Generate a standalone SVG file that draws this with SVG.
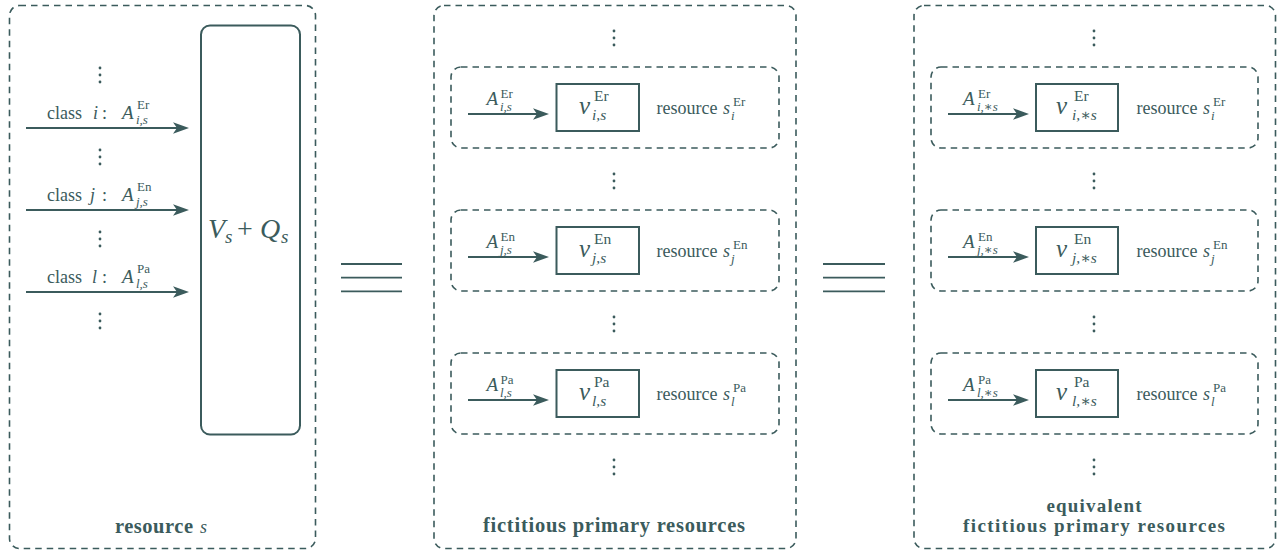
<svg xmlns="http://www.w3.org/2000/svg" xmlns:xlink="http://www.w3.org/1999/xlink" width="1283" height="552" viewBox="0 0 1283 552" font-family="'Liberation Serif', 'DejaVu Serif', serif">
<defs>
<style>
.dash{fill:none;stroke:#3b5b5c;stroke-width:1.6;stroke-dasharray:6.5 5}
.solid{fill:none;stroke:#3b5b5c;stroke-width:2}
.bar{stroke:#3b5b5c;stroke-width:1.8}
.arr{stroke:#3b5b5c;stroke-width:2;fill:none;marker-end:url(#ah)}
text{font-family:"Liberation Serif","DejaVu Serif",serif;fill:#3b5b5c}
.it{font-style:italic}
.b{font-weight:bold}
.n{font-size:18px}
.tt{font-size:20.5px;font-weight:bold}
.t2{font-size:19px;font-weight:bold}
.A{font-size:19px;font-style:italic}
.sc{font-size:13px}
.sci{font-size:13px;font-style:italic}
.v{font-size:25px;font-style:italic}
.vs{font-size:15.5px}
.vsi{font-size:15.5px;font-style:italic}
</style>
<marker id="ah" markerUnits="userSpaceOnUse" markerWidth="18" markerHeight="14" viewBox="0 0 18 14" refX="10" refY="7" orient="auto">
<path d="M0,1.3 L16,7 L0,12.7 L4,7 Z" fill="#3b5b5c"/>
</marker>
<g id="vdots" fill="#3b5b5c">
<circle cx="0" cy="-7" r="1.4"/><circle cx="0" cy="0" r="1.4"/><circle cx="0" cy="7" r="1.4"/>
</g>
</defs>

<!-- LEFT: resource s -->
<g id="resource-s">
<rect class="dash" x="9.5" y="5.5" width="306" height="543" rx="10"/>
<text x="115" y="533" class="tt" textLength="78" lengthAdjust="spacing">resource</text>
<text x="200" y="533" class="it n">s</text>
</g>
<g id="server-Vs-Qs">
<rect class="solid" x="201" y="25.5" width="99" height="409" rx="9"/>
<text x="208" y="238" class="it" font-size="28">V</text>
<text x="225" y="243" class="it" font-size="19">s</text>
<text x="237" y="238" font-size="28">+</text>
<text x="260" y="238" class="it" font-size="28">Q</text>
<text x="281" y="243" class="it" font-size="19">s</text>
</g>
<g id="left-dots">
<use xlink:href="#vdots" x="100" y="75"/>
<use xlink:href="#vdots" x="100" y="157"/>
<use xlink:href="#vdots" x="100" y="239"/>
<use xlink:href="#vdots" x="100" y="321"/>
</g>
<g id="left-labels">
<text x="47" y="119" class="n">class</text><text x="93" y="119" class="n it">i</text><text x="102" y="119" class="n">:</text>
<text x="122" y="119" class="A">A</text><text x="137" y="108.5" class="sc">Er</text><text x="136" y="124" class="sci">i,s</text>

<text x="47" y="201" class="n">class</text><text x="90" y="201" class="n it">j</text><text x="102" y="201" class="n">:</text>
<text x="122" y="201" class="A">A</text><text x="137" y="190.5" class="sc">En</text><text x="136" y="206" class="sci">j,s</text>

<text x="47" y="283" class="n">class</text><text x="92" y="283" class="n it">l</text><text x="102" y="283" class="n">:</text>
<text x="122" y="283" class="A">A</text><text x="137" y="272.5" class="sc">Pa</text><text x="136" y="288" class="sci">l,s</text>
</g>

<!-- equivalence signs -->
<g id="equiv-1">
<line class="bar" x1="341" y1="264" x2="402" y2="264"/>
<line class="bar" x1="341" y1="277.7" x2="402" y2="277.7"/>
<line class="bar" x1="341" y1="291.3" x2="402" y2="291.3"/>
</g>
<g id="equiv-2">
<line class="bar" x1="823" y1="264" x2="885" y2="264"/>
<line class="bar" x1="823" y1="277.7" x2="885" y2="277.7"/>
<line class="bar" x1="823" y1="291.3" x2="885" y2="291.3"/>
</g>

<!-- MIDDLE: fictitious primary resources -->
<g id="fictitious">
<rect class="dash" x="434" y="5.5" width="362" height="543" rx="10"/>
<text x="614" y="532" class="tt" text-anchor="middle" textLength="262" lengthAdjust="spacing">fictitious primary resources</text>
<use xlink:href="#vdots" x="614" y="38"/>
<use xlink:href="#vdots" x="614" y="181"/>
<use xlink:href="#vdots" x="614" y="324"/>
<use xlink:href="#vdots" x="614" y="467"/>
</g>
<g id="fict-Er">
<rect class="dash" x="451" y="67" width="328" height="81" rx="10"/>
<rect class="solid" x="556.5" y="84" width="82.5" height="47"/>
<text x="486.5" y="105" class="A">A</text><text x="500.5" y="98" class="sc">Er</text><text x="500" y="110.5" class="sci">i,s</text>
<text x="579" y="114" class="v">v</text><text x="594" y="101" class="vs">Er</text><text x="592" y="120" class="vsi">i,s</text>
<text x="656.5" y="114" class="n">resource</text><text x="723" y="114" class="n it">s</text><text x="733" y="106" class="sc">Er</text><text x="731" y="119.5" class="sci">i</text>
</g>
<g id="fict-En">
<rect class="dash" x="451" y="210" width="328" height="81" rx="10"/>
<rect class="solid" x="556.5" y="227" width="82.5" height="47"/>
<text x="486.5" y="248" class="A">A</text><text x="500.5" y="241" class="sc">En</text><text x="500" y="253.5" class="sci">j,s</text>
<text x="579" y="257" class="v">v</text><text x="594" y="244" class="vs">En</text><text x="592" y="263" class="vsi">j,s</text>
<text x="656.5" y="257" class="n">resource</text><text x="723" y="257" class="n it">s</text><text x="733" y="249" class="sc">En</text><text x="731" y="262.5" class="sci">j</text>
</g>
<g id="fict-Pa">
<rect class="dash" x="451" y="353" width="328" height="81" rx="10"/>
<rect class="solid" x="556.5" y="370" width="82.5" height="47"/>
<text x="486.5" y="391" class="A">A</text><text x="500.5" y="384" class="sc">Pa</text><text x="500" y="396.5" class="sci">l,s</text>
<text x="579" y="400" class="v">v</text><text x="594" y="387" class="vs">Pa</text><text x="592" y="406" class="vsi">l,s</text>
<text x="656.5" y="400" class="n">resource</text><text x="723" y="400" class="n it">s</text><text x="733" y="392" class="sc">Pa</text><text x="731" y="405.5" class="sci">l</text>
</g>

<!-- RIGHT: equivalent fictitious primary resources -->
<g id="equivalent">
<rect class="dash" x="914" y="5.5" width="361.5" height="543" rx="10"/>
<text x="1094" y="511.5" class="t2" text-anchor="middle" textLength="95" lengthAdjust="spacing">equivalent</text>
<text x="1094" y="532" class="t2" text-anchor="middle" textLength="262" lengthAdjust="spacing">fictitious primary resources</text>
<use xlink:href="#vdots" x="1094" y="38"/>
<use xlink:href="#vdots" x="1094" y="181"/>
<use xlink:href="#vdots" x="1094" y="324"/>
<use xlink:href="#vdots" x="1094" y="467"/>
</g>
<g id="equiv-Er">
<rect class="dash" x="931" y="67" width="327" height="81" rx="10"/>
<rect class="solid" x="1036" y="84" width="82" height="47"/>
<text x="963" y="105" class="A">A</text><text x="978" y="98" class="sc">Er</text><text x="977" y="110.5" class="sci">i,∗s</text>
<text x="1056" y="114" class="v">v</text><text x="1074" y="101" class="vs">Er</text><text x="1072" y="120" class="vsi">i,∗s</text>
<text x="1136.5" y="114" class="n">resource</text><text x="1203" y="114" class="n it">s</text><text x="1213" y="106" class="sc">Er</text><text x="1211" y="119.5" class="sci">i</text>
</g>
<g id="equiv-En">
<rect class="dash" x="931" y="210" width="327" height="81" rx="10"/>
<rect class="solid" x="1036" y="227" width="82" height="47"/>
<text x="963" y="248" class="A">A</text><text x="978" y="241" class="sc">En</text><text x="977" y="253.5" class="sci">j,∗s</text>
<text x="1056" y="257" class="v">v</text><text x="1074" y="244" class="vs">En</text><text x="1072" y="263" class="vsi">j,∗s</text>
<text x="1136.5" y="257" class="n">resource</text><text x="1203" y="257" class="n it">s</text><text x="1213" y="249" class="sc">En</text><text x="1211" y="262.5" class="sci">j</text>
</g>
<g id="equiv-Pa">
<rect class="dash" x="931" y="353" width="327" height="81" rx="10"/>
<rect class="solid" x="1036" y="370" width="82" height="47"/>
<text x="963" y="391" class="A">A</text><text x="978" y="384" class="sc">Pa</text><text x="977" y="396.5" class="sci">l,∗s</text>
<text x="1056" y="400" class="v">v</text><text x="1074" y="387" class="vs">Pa</text><text x="1072" y="406" class="vsi">l,∗s</text>
<text x="1136.5" y="400" class="n">resource</text><text x="1203" y="400" class="n it">s</text><text x="1213" y="392" class="sc">Pa</text><text x="1211" y="405.5" class="sci">l</text>
</g>

<!-- connectors -->
<g id="connectors">
<line class="arr" x1="26" y1="128" x2="183" y2="128"/>
<line class="arr" x1="26" y1="210" x2="183" y2="210"/>
<line class="arr" x1="26" y1="292" x2="183" y2="292"/>
<line class="arr" x1="468" y1="114" x2="543" y2="114"/>
<line class="arr" x1="468" y1="257" x2="543" y2="257"/>
<line class="arr" x1="468" y1="400" x2="543" y2="400"/>
<line class="arr" x1="948" y1="114" x2="1023" y2="114"/>
<line class="arr" x1="948" y1="257" x2="1023" y2="257"/>
<line class="arr" x1="948" y1="400" x2="1023" y2="400"/>
</g>
</svg>
